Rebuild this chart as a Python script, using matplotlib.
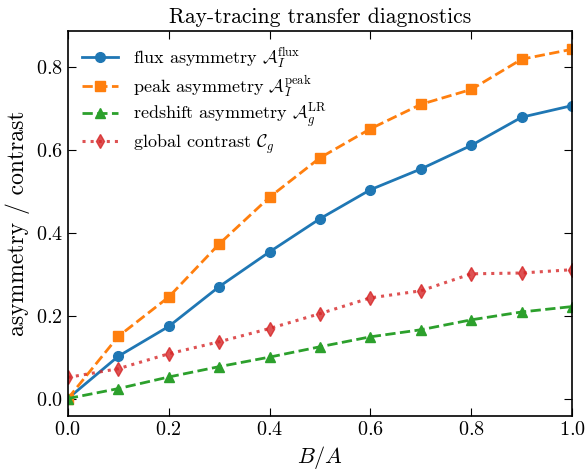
import matplotlib
matplotlib.use("Agg")
import matplotlib.pyplot as plt

plt.rcParams['font.family'] = 'serif'
plt.rcParams['font.serif'] = ['cmr10', 'DejaVu Serif']
plt.rcParams['mathtext.fontset'] = 'cm'
plt.rcParams['axes.formatter.use_mathtext'] = True
plt.rcParams['axes.unicode_minus'] = False

x = [0.0, 0.1, 0.2, 0.3, 0.4, 0.5, 0.6, 0.7, 0.8, 0.9, 1.0]
flux = [0.0, 0.102, 0.174, 0.270, 0.354, 0.434, 0.504, 0.554, 0.611, 0.679, 0.707]
peak = [0.0, 0.150, 0.245, 0.373, 0.486, 0.581, 0.651, 0.710, 0.746, 0.819, 0.843]
redshift = [0.0, 0.024, 0.052, 0.077, 0.100, 0.125, 0.149, 0.166, 0.190, 0.209, 0.222]
contrast = [0.051, 0.072, 0.108, 0.137, 0.169, 0.205, 0.243, 0.260, 0.301, 0.303, 0.311]

labels = [r'flux asymmetry $\mathcal{A}_I^{\rm flux}$',
          r'peak asymmetry $\mathcal{A}_I^{\rm peak}$',
          r'redshift asymmetry $\mathcal{A}_g^{\rm LR}$',
          r'global contrast $\mathcal{C}_g$']

fig = plt.figure(figsize=(5.85, 4.7), dpi=100)
ax = fig.add_axes([0.116, 0.115, 0.862, 0.819])

ax.plot(x, flux, '-', marker='o', color='#1f77b4', lw=2, ms=7, label=labels[0])
ax.plot(x, peak, '--', marker='s', color='#ff7f0e', lw=2, ms=7, label=labels[1])
ax.plot(x, redshift, '--', marker='^', color='#2ca02c', lw=2, ms=7, label=labels[2])
ax.plot(x, contrast, ':', marker='d', color='#d62728', lw=2.2, ms=7, alpha=0.8, label=labels[3])

ax.set_xlim(0, 1)
ax.set_ylim(-0.042, 0.887)
ax.set_xticks([0, 0.2, 0.4, 0.6, 0.8, 1.0])
ax.set_yticks([0, 0.2, 0.4, 0.6, 0.8])
ax.tick_params(direction='in', top=True, right=True, labelsize=14.5, length=6)
for s in ax.spines.values():
    s.set_linewidth(1.2)

ax.set_xlabel(r'$B/A$', fontsize=16)
ax.set_ylabel('asymmetry / contrast', fontsize=17)
ax.set_title('Ray-tracing transfer diagnostics', fontsize=15.5)
ax.legend(loc='upper left', frameon=False, fontsize=13, labelspacing=0.15,
          handlelength=2.0, borderaxespad=0.4)

fig.savefig('out.png', dpi=100)
